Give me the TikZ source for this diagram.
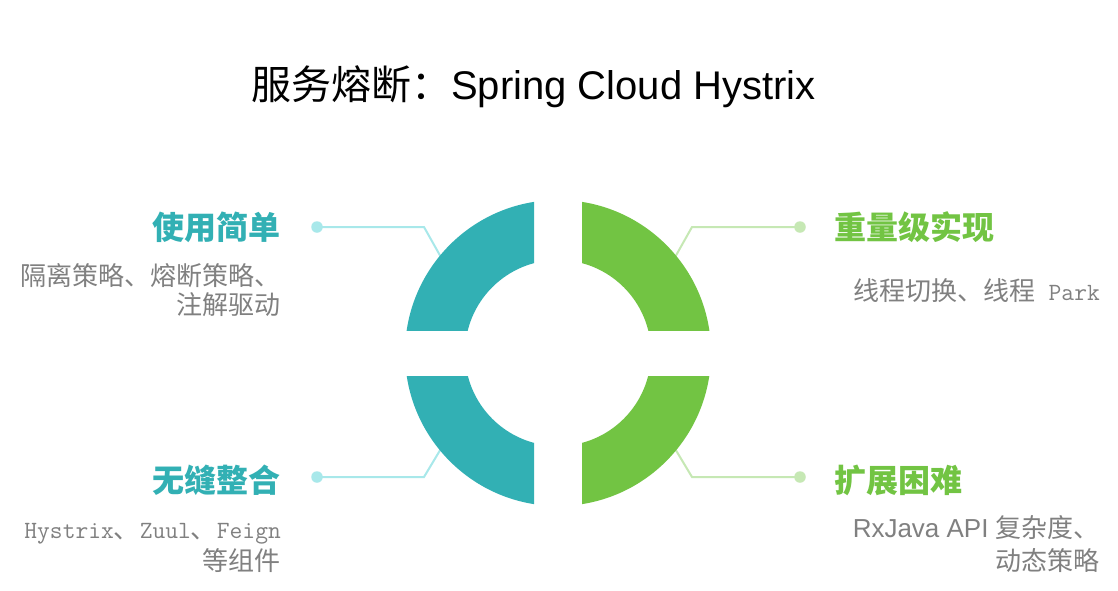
\documentclass[tikz,border=0pt]{standalone}
\usepackage{fontspec}
\setmainfont{Liberation Sans}
\newfontfamily\cjk{Noto Sans CJK SC}
\newcommand\monofont{\ttfamily\fontsize{24.8}{30}\selectfont}
\definecolor{tealA}{HTML}{32B0B4}
\definecolor{greenA}{HTML}{72C443}
\definecolor{tealL}{HTML}{A8E8EA}
\definecolor{greenL}{HTML}{C6E8B4}
\definecolor{txtgray}{HTML}{808080}
\begin{document}
\begin{tikzpicture}[x=1pt,y=-1pt,
  conn/.style={line width=2pt,draw=#1},
  dotnode/.style={circle,fill=#1,minimum size=11.5pt,inner sep=0pt},
  head/.style={inner sep=0pt,font=\cjk\bfseries\fontsize{32}{38}\selectfont},
  desc/.style={inner sep=0pt,text=txtgray,font=\cjk\fontsize{26}{30}\selectfont}]
\useasboundingbox (0,0) rectangle (1118,590);
\fill[white] (0,0) rectangle (1118,590);
\coordinate (c) at (558,353);
% connectors
\node[dotnode=tealL] (d1) at (317,227) {};
\coordinate (b1) at (424,227);
\coordinate (e1) at (442,259);
\draw[conn=tealL] (d1.center) -- (b1) -- (e1);
\node[dotnode=greenL] (d2) at (800,227) {};
\coordinate (b2) at (692,227);
\coordinate (e2) at (674,259);
\draw[conn=greenL] (d2.center) -- (b2) -- (e2);
\node[dotnode=tealL] (d3) at (317,477) {};
\coordinate (b3) at (424,477);
\coordinate (e3) at (442,447);
\draw[conn=tealL] (d3.center) -- (b3) -- (e3);
\node[dotnode=greenL] (d4) at (800,477) {};
\coordinate (b4) at (692,477);
\coordinate (e4) at (674,447);
\draw[conn=greenL] (d4.center) -- (b4) -- (e4);
% ring segments
\begin{scope}
\clip (0,0) rectangle (534,330);
\fill[tealA,even odd rule] (c) circle[radius=153pt] (c) circle[radius=93pt];
\end{scope}
\begin{scope}
\clip (582,0) rectangle (1118,330);
\fill[greenA,even odd rule] (c) circle[radius=153pt] (c) circle[radius=93pt];
\end{scope}
\begin{scope}
\clip (0,376) rectangle (534,590);
\fill[tealA,even odd rule] (c) circle[radius=153pt] (c) circle[radius=93pt];
\end{scope}
\begin{scope}
\clip (582,376) rectangle (1118,590);
\fill[greenA,even odd rule] (c) circle[radius=153pt] (c) circle[radius=93pt];
\end{scope}
% title
\node[anchor=base west,inner sep=0pt,font=\fontsize{40}{48}\selectfont] (title) at (251,99) {{\cjk 服务熔断：}Spring Cloud Hystrix};
% top left
\node[head,text=tealA,anchor=base east] (h1) at (281,239) {使用简单};
\node[desc,anchor=base east] (t1a) at (281,285) {隔离策略、熔断策略、};
\node[desc,anchor=base east] (t1b) at (281,314) {注解驱动};
% top right
\node[head,text=greenA,anchor=base west] (h2) at (834,239) {重量级实现};
\node[desc,anchor=base east] (t2) at (1100,300) {线程切换、线程{\monofont\ Park}};
% bottom left
\node[head,text=tealA,anchor=base east] (h3) at (281,492) {无缝整合};
\node[desc,anchor=base east] (t3a) at (281,538) {{\monofont Hystrix}、{\monofont Zuul}、{\monofont Feign}};
\node[desc,anchor=base east] (t3b) at (281,570) {等组件};
% bottom right
\node[head,text=greenA,anchor=base west] (h4) at (834,492) {扩展困难};
\node[desc,anchor=base east] (t4a) at (1100,537) {{\rmfamily RxJava API }复杂度、};
\node[desc,anchor=base east] (t4b) at (1100,570) {动态策略};
\end{tikzpicture}
\end{document}
